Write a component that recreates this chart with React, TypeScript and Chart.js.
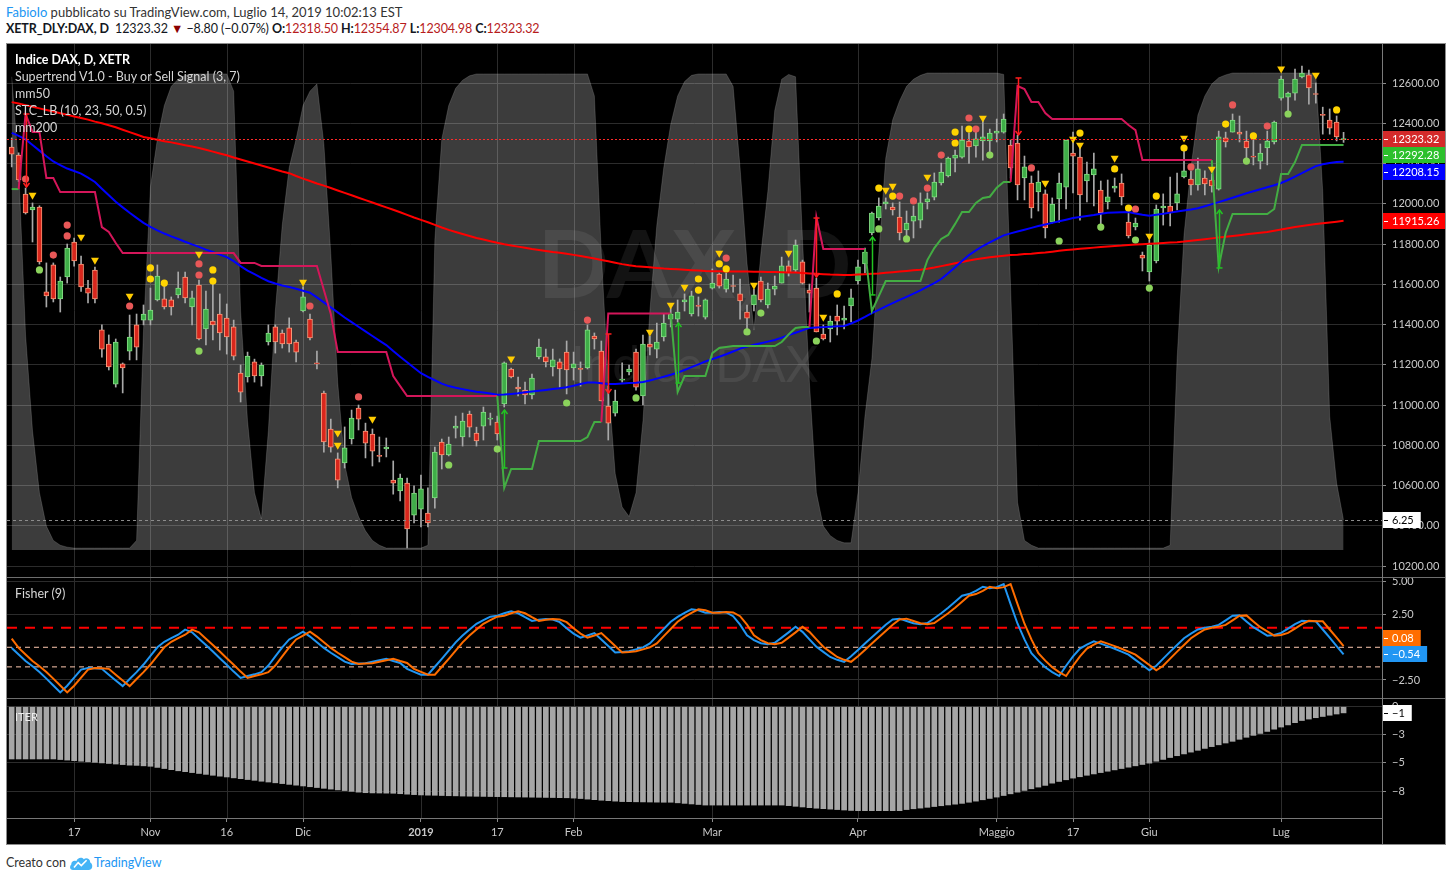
import React, { useEffect, useRef } from "react";
import { Chart, registerables } from "chart.js";
Chart.register(...registerables);

const FONT = "Lato, 'Open Sans', sans-serif";
Chart.defaults.font.family = FONT;

// ---------------- DATA ----------------
const opens = [
12281,12242,12048,11969,11984,11562,11696,11527,11636,11810,
11700,11581,11670,11373,11303,11104,11204,11268,11398,11422,
11422,11522,11527,11522,11547,11636,11487,11596,11378,11417,
11452,11432,11388,11159,11139,11214,11144,11313,11388,11358,
11383,11313,11467,11427,11209,11059,10881,10732,10712,10831,
10985,10871,10856,10749,10782,10627,10573,10612,10453,10483,
10463,10538,10816,10752,10885,10841,10955,10861,10895,10930,
10915,11005,11179,11089,11074,11050,11239,11239,11189,11214,
11263,11184,11181,11184,11343,11268,10995,10960,11124,11164,
11263,11045,11303,11278,11338,11427,11427,11512,11452,11494,
11437,11581,11651,11576,11593,11552,11462,11497,11616,11497,
11576,11606,11691,11671,11711,11571,11581,11353,11378,11442,
11422,11492,11616,11701,11855,11929,11999,11984,11934,11870,
11914,11919,12009,12033,12103,12138,12227,12232,12312,12287,
12312,12312,12351,12356,12292,12302,12128,12103,12059,12049,
11909,12024,12083,12252,12232,12113,12143,12068,12009,12078,
12103,11909,11885,11745,11661,11716,11979,11989,12004,12133,
12123,12093,12128,12118,12073,12327,12356,12356,12312,12237,
12212,12277,12307,12525,12530,12550,12630,12640,12547,12443,
12416,12406,12318.5];
const highs = [
12327,12253,12078,12004,11990,11706,11706,11636,11800,11830,
11740,11620,11685,11398,11348,11328,11209,11447,11452,11497,
11581,11696,11596,11537,11661,11661,11566,11621,11566,11621,
11552,11502,11422,11199,11263,11228,11209,11398,11398,11373,
11433,11323,11587,11452,11268,11069,10930,10762,10891,10975,
11000,10910,10881,10841,10836,10722,10657,10637,10598,10652,
10588,10791,10831,10841,10945,10960,10970,10890,10990,10960,
10945,11214,11184,11139,11114,11154,11328,11278,11278,11229,
11318,11263,11214,11398,11358,11318,11094,11074,11209,11199,
11278,11348,11343,11407,11452,11482,11522,11552,11566,11537,
11527,11676,11656,11656,11646,11626,11497,11576,11636,11606,
11641,11735,11716,11820,11720,11601,11631,11398,11442,11497,
11492,11576,11720,11780,11959,12029,12029,12004,12009,11964,
11989,12054,12054,12153,12202,12232,12267,12386,12351,12361,
12427,12371,12421,12446,12317,12341,12237,12138,12163,12069,
12029,12153,12317,12356,12287,12207,12252,12113,12118,12128,
12148,11964,11929,11760,11820,11994,12049,12133,12153,12267,
12163,12227,12163,12148,12361,12356,12446,12436,12361,12317,
12297,12361,12411,12634,12555,12669,12684,12664,12600,12480,
12471,12436,12354.87];
const lows = [
12183,12110,11949,11810,11700,11487,11512,11462,11606,11690,
11565,11507,11507,11238,11174,11089,11060,11224,11224,11398,
11398,11517,11477,11447,11532,11507,11398,11323,11298,11323,
11273,11253,11224,11015,11114,11114,11094,11298,11258,11283,
11263,11214,11462,11323,11179,10766,10766,10588,10687,10806,
10876,10737,10697,10717,10742,10557,10523,10290,10414,10394,
10394,10488,10682,10747,10836,10796,10841,10796,10826,10900,
10826,10990,11134,11045,11005,11030,11229,11189,11144,11089,
11055,11124,11094,11179,11278,11020,10826,10945,11114,11149,
11074,11000,11249,11234,11318,11388,11412,11467,11442,11442,
11427,11576,11581,11561,11561,11427,11373,11467,11512,11482,
11547,11606,11641,11661,11601,11462,11363,11323,11313,11348,
11378,11413,11601,11656,11845,11919,11974,11944,11820,11830,
11830,11880,11974,12019,12093,12133,12158,12227,12200,12232,
12217,12247,12307,12351,12128,12019,12019,11929,11964,11830,
11904,11909,11974,12054,11919,12009,11989,11900,11974,12058,
11994,11830,11870,11666,11616,11706,11894,11890,11969,12128,
12044,12068,12044,12058,12068,12282,12356,12307,12218,12193,
12173,12193,12297,12515,12441,12515,12625,12495,12500,12346,
12346,12312,12304.98];
const closes = [
12246,12118,11954,11984,11711,11542,11527,11616,11780,11716,
11587,11556,11527,11278,11189,11313,11184,11338,11288,11452,
11472,11641,11487,11487,11581,11532,11532,11328,11477,11398,
11358,11338,11243,11064,11243,11144,11199,11358,11313,11303,
11303,11263,11537,11333,11204,10816,10791,10627,10787,10935,
10930,10811,10771,10745,10791,10612,10637,10384,10563,10583,
10414,10766,10752,10806,10895,10920,10890,10821,10965,10935,
10856,11209,11139,11080,11050,11134,11288,11214,11224,11179,
11174,11204,11177,11373,11328,11020,10910,11020,11129,11179,
11089,11303,11288,11313,11407,11452,11462,11522,11542,11490,
11522,11606,11591,11626,11589,11517,11432,11547,11522,11576,
11591,11691,11656,11795,11606,11556,11363,11328,11417,11417,
11432,11532,11686,11760,11954,11989,12009,11969,11855,11904,
11939,12004,12024,12108,12158,12227,12242,12317,12282,12322,
12332,12351,12361,12421,12178,12093,12183,11979,12108,11880,
11999,12103,12317,12237,12044,12148,12173,11954,12034,12088,
12034,11840,11904,11730,11795,11974,11989,11954,12049,12163,
12093,12173,12098,12088,12332,12307,12416,12346,12277,12232,
12252,12312,12406,12620,12550,12620,12649,12575,12543,12439,
12376,12332.12,12323.32];

const mm50 = [
12352,12337,12320,12292,12264,12236,12210,12192,12175,12163,
12150,12130,12108,12075,12042,12010,11982,11955,11930,11905,
11885,11868,11852,11838,11825,11811,11798,11786,11772,11760,
11747,11735,11715,11690,11668,11650,11632,11615,11604,11594,
11586,11578,11568,11558,11535,11510,11485,11460,11435,11412,
11389,11366,11343,11320,11298,11268,11240,11212,11185,11158,
11140,11123,11106,11094,11086,11079,11072,11066,11062,11057,
11051,11052,11055,11058,11063,11067,11071,11075,11079,11083,
11088,11096,11104,11112,11112,11108,11104,11105,11107,11109,
11111,11114,11122,11131,11140,11150,11161,11174,11188,11202,
11216,11228,11240,11252,11266,11280,11290,11299,11307,11315,
11323,11335,11347,11359,11371,11383,11385,11387,11389,11391,
11393,11405,11420,11438,11457,11473,11490,11506,11522,11537,
11553,11570,11588,11606,11626,11655,11685,11715,11745,11768,
11790,11808,11826,11843,11853,11862,11871,11880,11889,11897,
11905,11913,11921,11929,11934,11939,11944,11950,11955,11957,
11958,11959,11952,11945,11940,11945,11950,11956,11962,11967,
11972,11978,11988,11998,12008,12019,12030,12041,12052,12062,
12072,12082,12092,12103,12118,12135,12152,12170,12187,12196,
12203,12207,12208.15];
const mm200 = [
12505,12498,12490,12482,12474,12466,12458,12450,12442,12434,
12426,12418,12408,12400,12390,12380,12368,12356,12344,12332,
12325,12318,12311,12305,12298,12291,12284,12277,12268,12259,
12250,12241,12230,12220,12210,12200,12190,12180,12170,12160,
12152,12138,12125,12113,12101,12090,12078,12066,12054,12042,
12030,12018,12006,11994,11982,11970,11958,11945,11932,11920,
11908,11895,11882,11870,11860,11850,11840,11830,11822,11814,
11806,11799,11793,11787,11781,11775,11770,11765,11760,11756,
11752,11746,11740,11734,11728,11721,11714,11707,11700,11694,
11690,11687,11684,11681,11678,11676,11674,11672,11670,11668,
11666,11665,11665,11664,11664,11663,11663,11662,11662,11661,
11661,11660,11659,11658,11656,11654,11652,11650,11648,11647,
11646,11646,11648,11650,11652,11654,11657,11660,11663,11666,
11669,11672,11677,11683,11690,11697,11704,11711,11718,11724,
11729,11734,11738,11742,11745,11747,11750,11752,11755,11758,
11762,11766,11770,11773,11776,11779,11782,11785,11788,11790,
11792,11795,11797,11799,11801,11803,11805,11807,11809,11812,
11816,11820,11824,11828,11832,11836,11840,11844,11848,11852,
11856,11860,11866,11872,11878,11884,11890,11895,11899,11903,
11907,11911,11915.26];
const supertrend = [
12073,12073,12446,12357,12357,12128,12128,12058,12058,12058,
12058,12058,12058,11884,11860,11805,11755,11755,11755,11755,
11755,11755,11755,11755,11755,11755,11755,11755,11755,11755,
11755,11755,11755,11706,11706,11706,11691,11691,11691,11691,
11691,11691,11691,11691,11691,11571,11452,11263,11263,11263,
11263,11263,11263,11263,11263,11144,11094,11045,11045,11045,
11045,11045,11045,11045,11045,11045,11045,11045,11045,11045,
11045,10588,10682,10682,10682,10682,10821,10821,10821,10821,
10821,10821,10821,10841,10915,10915,11455,11455,11455,11455,
11455,11455,11455,11455,11455,11455,11065,11144,11144,11144,
11144,11258,11283,11288,11293,11293,11293,11293,11293,11293,
11293,11313,11350,11383,11388,11388,11934,11775,11775,11775,
11775,11775,11775,11775,11467,11541,11616,11616,11616,11616,
11616,11616,11720,11780,11825,11845,11900,11959,11959,12004,
12029,12035,12080,12108,12108,12585,12570,12506,12506,12451,
12421,12421,12421,12421,12421,12421,12421,12421,12421,12421,
12421,12391,12366,12217,12217,12217,12217,12217,12217,12217,
12217,12217,12217,12217,11686,11855,11949,11949,11949,11949,
11949,11949,11974,12148,12148,12207,12292.28,12292.28,12292.28,12292.28,
12292.28,12292.28,12292.28];
const stc = [
99,80,45,25,12,5,2,1,0.6,0.4,
0.4,0.4,0.4,0.4,0.4,0.4,0.4,0.4,2,46,
76,86,93,97,98.5,99.3,99.6,99.6,99.6,99.6,
99.6,99.6,96,50,27,12,6.5,25,50,68,
80,86,93,96,97.5,85,62,35,18,11,
7,4,2,1,0.4,0.4,0.4,0.4,0.4,0.4,
1,65,86,93,96.6,98.3,99.2,99.6,99.6,99.6,
99.6,99.6,99.6,99.6,99.6,99.6,99.6,99.6,99.6,99.6,
99.6,99.6,99.6,99.6,95,62,35,16,9,7,
12,27,50,68,80,89,95,98,99.3,99.6,
99.6,99.6,99.6,99.6,97,80,60,46,62,75,
92,98.5,99.5,99,65,35,12,5,3,2,
1.5,1.5,12,28,40,62,82,90,94,97,
98.5,99.3,99.8,99.8,99.8,99.8,99.8,99.8,99.8,99.8,
99.8,99.8,99.8,99.5,55,10,2,1,0.4,0.4,
0.4,0.4,0.4,0.4,0.4,0.4,0.4,0.4,0.4,0.4,
0.4,0.4,0.4,0.4,0.4,0.4,0.4,1,40,66,
80,91,95,97.5,98.8,99.4,99.8,99.8,99.8,99.8,
99.8,99.8,99.8,99.8,99.8,99.8,99.8,99.8,99.5,75,
28,14,6.25];
const fisher = [
-0.05,-0.55,-1.05,-1.45,-1.89,-2.4,-2.93,-3.45,-2.94,-2.32,
-1.71,-1.58,-1.6,-1.65,-2.1,-2.54,-2.97,-2.43,-1.9,-1.32,
-0.66,0.0,0.42,0.7,0.96,1.35,1.14,0.66,0.18,-0.33,
-0.84,-1.34,-1.86,-2.35,-2.2,-2.07,-1.9,-1.4,-0.69,0.0,
0.6,0.9,1.2,0.82,0.39,-0.05,-0.42,-0.76,-1.1,-1.27,
-1.25,-1.22,-1.1,-0.99,-0.88,-1.05,-1.2,-1.65,-1.88,-2.1,
-2.1,-1.49,-0.88,-0.25,0.38,0.9,1.36,1.8,2.07,2.34,
2.41,2.6,2.75,2.6,2.3,2.02,2.1,2.17,2.12,1.92,
1.45,1.05,0.74,0.9,1.09,0.6,0.1,-0.39,-0.37,-0.31,
-0.16,-0.01,0.3,0.85,1.4,1.95,2.33,2.64,2.9,2.83,
2.65,2.64,2.7,2.67,2.38,1.73,0.92,0.55,0.31,0.24,
0.35,0.74,1.14,1.57,1.18,0.6,0.04,-0.35,-0.74,-0.96,
-1.11,-0.68,-0.2,0.29,0.77,1.25,1.73,2.12,2.19,2.01,
1.84,1.77,1.85,2.22,2.6,3.03,3.49,3.94,4.07,4.31,
4.63,4.52,4.6,4.84,3.3,1.8,0.6,-0.45,-1.02,-1.53,
-1.9,-2.2,-1.41,-0.7,-0.1,0.2,0.46,0.28,0.09,-0.11,
-0.33,-0.56,-0.96,-1.36,-1.76,-1.41,-0.87,-0.33,0.17,0.69,
1.05,1.36,1.5,1.58,1.71,2.06,2.41,2.44,1.98,1.54,
1.22,0.89,0.94,1.1,1.43,1.77,2.03,2.0,1.99,1.36,
0.74,0.08,-0.54];
const fisherFirstTrigger = 0.66;
const fisherLevels = [1.5, 0, -1.5];
const iter = [
-4.65,-4.65,-4.65,-4.65,-4.65,-4.65,-4.65,-4.7,-4.75,-4.8,
-4.85,-4.9,-4.95,-5.0,-5.05,-5.1,-5.15,-5.2,-5.22,-5.26,
-5.3,-5.4,-5.5,-5.6,-5.7,-5.78,-5.86,-5.94,-6.02,-6.1,
-6.18,-6.25,-6.33,-6.4,-6.48,-6.55,-6.63,-6.7,-6.77,-6.84,
-6.91,-6.98,-7.05,-7.12,-7.19,-7.26,-7.33,-7.4,-7.46,-7.53,
-7.6,-7.65,-7.67,-7.68,-7.69,-7.7,-7.74,-7.78,-7.82,-7.85,
-7.87,-7.88,-7.9,-7.92,-7.93,-7.95,-7.96,-7.97,-7.98,-7.99,
-8.0,-8.01,-8.02,-8.03,-8.04,-8.05,-8.06,-8.07,-8.08,-8.09,
-8.1,-8.13,-8.17,-8.22,-8.27,-8.32,-8.36,-8.4,-8.44,-8.45,
-8.46,-8.47,-8.48,-8.49,-8.5,-8.5,-8.55,-8.6,-8.65,-8.7,
-8.75,-8.75,-8.75,-8.75,-8.75,-8.75,-8.75,-8.75,-8.75,-8.75,
-8.75,-8.75,-8.8,-8.86,-8.92,-8.98,-9.03,-9.07,-9.11,-9.15,
-9.19,-9.23,-9.25,-9.25,-9.25,-9.25,-9.25,-9.25,-9.25,-9.15,
-9.08,-9.02,-8.95,-8.88,-8.81,-8.74,-8.67,-8.6,-8.5,-8.4,
-8.28,-8.16,-8.04,-7.9,-7.75,-7.6,-7.45,-7.3,-7.15,-7.0,
-6.8,-6.65,-6.5,-6.35,-6.23,-6.1,-5.98,-5.86,-5.74,-5.62,
-5.5,-5.38,-5.26,-5.14,-5.02,-4.85,-4.69,-4.52,-4.36,-4.2,
-4.04,-3.88,-3.71,-3.55,-3.39,-3.23,-3.08,-2.9,-2.72,-2.55,
-2.38,-2.2,-2.0,-1.81,-1.62,-1.42,-1.23,-1.1,-0.98,-0.87,
-0.76,-0.65,-0.55];

// signal markers: [bar index, price]
const yellowTriangles = [[3,12043],[10,11835],[12,11720],[17,11542],[27,11750],[42,11611],[47,10861],[47,10801],[52,10930],[72,11229],[92,11363],[95,11497],[97,11586],[102,11755],[107,11596],[112,11755],[117,11437],[126,12068],[127,12088],[132,12133],[140,12426],[149,12103],[153,12322],[154,12292],[159,12227],[164,11840],[169,12327],[173,12173],[183,12670],[188,12640]];
const redDots = [[2,12123],[6,11745],[8,11894],[8,11840],[17,11492],[27,11701],[27,11646],[43,11492],[50,11040],[83,11422],[103,11730],[128,12038],[130,12014],[132,12078],[134,12242],[138,12426],[139,12371],[147,12178],[162,11974],[170,12183],[176,12491],[181,12386]];
const yellowDots = [[20,11681],[20,11626],[22,11606],[29,11671],[29,11616],[99,11626],[99,11571],[102,11701],[103,11676],[119,11552],[125,12078],[127,12038],[136,12356],[136,12302],[138,12371],[154,12351],[159,12173],[161,11979],[165,12038],[169,12277],[175,12396],[179,12337],[191,12466]];
const greenDots = [[4,11671],[27,11268],[63,10702],[70,10781],[80,11010],[90,11035],[106,11363],[108,11457],[116,11318],[125,11875],[129,11825],[141,12242],[151,11815],[157,11884],[162,11820],[164,11581],[178,12212],[184,12446]];

// trend-change arrows
const arrowBars = [2, 71, 86, 96, 116, 124, 145, 174];
const arrowTop = [12446, 10975, 11353, 11407, 11929, 11835, 12625, 11969];
const arrowBottom = [12083, 10687, 11060, 11109, 11636, 11547, 12342, 11681];
const arrowUp = [false, true, false, true, false, true, false, true];

// axes
const xTickIdx = [9, 20, 31, 42, 59, 70, 81, 101, 122, 142, 153, 164, 183];
const xTickLabels = ["17", "Nov", "16", "Dic", "2019", "17", "Feb", "Mar", "Apr", "Maggio", "17", "Giu", "Lug"];
const priceTicks = [10200, 10400, 10600, 10800, 11000, 11200, 11400, 11600, 11800, 12000, 12200, 12400, 12600];
const fisherTicks = [5, 2.5, -2.5];
const fisherTickLabels = ["5.00", "2.50", "\u22122.50"];
const iterTicks = [0, -2.5, -5, -7.5];
const iterTickLabels = ["0", "\u22123", "\u22125", "\u22128"];

// ---------------- LAYOUT CONSTANTS ----------------
const X_MIN = -0.678, X_MAX = 197.54;
const AXIS_W = 63;
const GRID = "#2c2c2c";
const TICK_TXT = "#c9c9c9";
const N = closes.length;

const fmt = (v: number, d: number) => v.toFixed(d).replace("-", "\u2212");
const pts = (arr: number[]) => arr.map((v, i) => ({ x: i, y: v }));
const mk = (arr: number[][]) => arr.map((p) => ({ x: p[0], y: p[1] }));

const zeroPad = (s: any) => { s.paddingTop = 0; s.paddingBottom = 0; s.paddingLeft = 0; s.paddingRight = 0; };
const rightAxisFit = (s: any) => { s.width = AXIS_W; zeroPad(s); };

const hiddenX = () => ({
  type: "linear", min: X_MIN, max: X_MAX, display: false, offset: false,
  grid: { offset: false }, ticks: { display: false }, afterFit: zeroPad,
});

function rightAxis(min: number, max: number, ticks: number[], labels: (v: number, i: number) => string, extra: any = {}) {
  return {
    type: "linear", position: "right", min, max, offset: false, beginAtZero: false,
    afterBuildTicks: (s: any) => { s.ticks = ticks.map((v) => ({ value: v })); },
    afterFit: rightAxisFit,
    grid: { color: GRID, tickColor: "#8a8a8a", tickLength: 4, drawTicks: true },
    border: { display: false },
    ticks: { color: TICK_TXT, font: { size: 11, family: FONT }, padding: 6, autoSkip: false, callback: (v: any, i: number) => labels(Number(v), i) },
    ...extra,
  };
}

const baseOptions = () => ({
  responsive: false, animation: false, devicePixelRatio: 1, events: [],
  layout: { padding: 0, autoPadding: false },
  plugins: { legend: { display: false }, tooltip: { enabled: false } },
});

const vGridPlugin = {
  id: "vgrid",
  beforeDatasetsDraw(chart: any) {
    const { ctx, chartArea: a, scales } = chart;
    ctx.save();
    ctx.strokeStyle = GRID;
    ctx.lineWidth = 1;
    for (const t of xTickIdx) {
      const x = Math.round(scales.x.getPixelForValue(t)) + 0.5;
      ctx.beginPath(); ctx.moveTo(x, a.top); ctx.lineTo(x, a.bottom); ctx.stroke();
    }
    ctx.restore();
  },
};

type Lbl = { axis: string; value: number; bg: string; fg: string; text: string };
function labelPlugin(items: Lbl[], mode: "down" | "up") {
  return {
    id: "valueLabels",
    afterDraw(chart: any) {
      const { ctx, chartArea: a } = chart;
      const H = 16;
      const pos = items.map((it) => ({ ...it, y: chart.scales[it.axis].getPixelForValue(it.value) }));
      if (mode === "down") {
        pos.sort((p, q) => p.y - q.y);
        for (let i = 1; i < pos.length; i++) if (pos[i].y < pos[i - 1].y + H + 0.5) pos[i].y = pos[i - 1].y + H + 0.5;
      } else {
        pos.sort((p, q) => q.y - p.y);
        for (let i = 1; i < pos.length; i++) if (pos[i].y > pos[i - 1].y - H - 0.5) pos[i].y = pos[i - 1].y - H - 0.5;
      }
      ctx.save();
      ctx.font = `11px ${FONT}`;
      ctx.textBaseline = "middle";
      for (const p of pos) {
        const w = Math.min(ctx.measureText(p.text).width + 16, chart.width - a.right - 1);
        const y0 = Math.round(p.y - H / 2);
        ctx.fillStyle = p.bg;
        ctx.fillRect(a.right + 1, y0, w, H);
        ctx.fillStyle = p.fg;
        ctx.fillRect(a.right + 2, Math.round(p.y), 4, 1);
        ctx.fillText(p.text, a.right + 10, y0 + H / 2 + 0.5);
      }
      ctx.restore();
    },
  };
}

// ---------------- MAIN PANE ----------------
function mainConfig(): any {
  const up = closes.map((c, i) => c >= opens[i]);
  const trendUp = supertrend.map((s, i) => s < closes[i]);
  const G_FILL = "#3fae48", G_EDGE = "#83dc83", R_FILL = "#d9261c", R_EDGE = "#f79778";

  const overlay = {
    id: "mainOverlay",
    beforeDatasetsDraw(chart: any) {
      const { ctx, chartArea: a } = chart;
      ctx.save();
      ctx.fillStyle = "rgba(255,255,255,0.075)";
      ctx.textAlign = "center";
      ctx.textBaseline = "middle";
      const cx = (a.left + a.right) / 2;
      ctx.font = `bold 94px ${FONT}`;
      ctx.fillText("DAX, D", cx, 224);
      ctx.font = `50px ${FONT}`;
      ctx.fillText("Indice DAX", cx, 322);
      ctx.restore();
    },
    afterDatasetsDraw(chart: any) {
      const { ctx, chartArea: a, scales } = chart;
      ctx.save();
      let y = Math.round(scales.y.getPixelForValue(closes[N - 1])) + 0.5;
      ctx.setLineDash([2, 2]);
      ctx.strokeStyle = "#ff2a2a";
      ctx.lineWidth = 1;
      ctx.beginPath(); ctx.moveTo(a.left, y); ctx.lineTo(a.right, y); ctx.stroke();
      y = Math.round(scales.stc.getPixelForValue(stc[N - 1])) + 0.5;
      ctx.strokeStyle = "#8c8c8c";
      ctx.setLineDash([3, 3]);
      ctx.beginPath(); ctx.moveTo(a.left, y); ctx.lineTo(a.right, y); ctx.stroke();
      ctx.setLineDash([]);
      for (let i = 0; i < arrowBars.length; i++) {
        const x = Math.round(scales.x.getPixelForValue(arrowBars[i])) + 0.5;
        const yt = scales.y.getPixelForValue(arrowTop[i]);
        const yb = scales.y.getPixelForValue(arrowBottom[i]);
        const col = arrowUp[i] ? "#22c422" : "#ff1e1e";
        ctx.strokeStyle = col;
        ctx.lineWidth = 1.5;
        ctx.beginPath(); ctx.moveTo(x, yt); ctx.lineTo(x, yb); ctx.stroke();
        const head = arrowUp[i] ? yt : yb;
        const tail = arrowUp[i] ? yb : yt;
        const d = arrowUp[i] ? 1 : -1;
        ctx.beginPath(); ctx.moveTo(x - 3, head + 4 * d); ctx.lineTo(x, head); ctx.lineTo(x + 3, head + 4 * d); ctx.stroke();
        ctx.beginPath(); ctx.moveTo(x - 3, tail); ctx.lineTo(x + 3, tail); ctx.stroke();
      }
      ctx.restore();
    },
  };

  const markerDs = (data: number[][], color: string, style: string, r: number, rot: number) => ({
    type: "line", yAxisID: "y", data: mk(data), showLine: false, pointStyle: style, pointRadius: r,
    pointRotation: rot, pointBackgroundColor: color, pointBorderWidth: 0, order: 1,
  });

  return {
    type: "bar",
    data: {
      datasets: [
        { type: "line", yAxisID: "stc", data: pts(stc), fill: { value: 0 }, backgroundColor: "rgba(255,255,255,0.235)", borderColor: "rgba(255,255,255,0.15)", borderWidth: 1, pointRadius: 0, order: 30 },
        { type: "bar", yAxisID: "y", data: lows.map((l, i) => ({ x: i, y: [l, highs[i]] })), backgroundColor: "#a9a9a9", barThickness: 1, grouped: false, order: 20 },
        { type: "bar", yAxisID: "y", data: opens.map((o, i) => ({ x: i, y: [o, closes[i]] })), backgroundColor: up.map((u) => (u ? G_FILL : R_FILL)), borderColor: up.map((u) => (u ? G_EDGE : R_EDGE)), borderWidth: 1, borderSkipped: false, minBarLength: 1, barThickness: 5, grouped: false, order: 19 },
        { type: "line", yAxisID: "y", data: pts(mm200), borderColor: "#ff0000", borderWidth: 2, pointRadius: 0, order: 9 },
        { type: "line", yAxisID: "y", data: pts(mm50), borderColor: "#0000ff", borderWidth: 2, pointRadius: 0, order: 8 },
        { type: "line", yAxisID: "y", data: pts(supertrend), borderColor: "#d81b60", borderWidth: 2, pointRadius: 0, order: 7,
          segment: { borderColor: (c: any) => (trendUp[c.p1DataIndex] ? "#43ad43" : "#d4165a") } },
        markerDs(greenDots, "#8bd35c", "circle", 3.6, 0),
        markerDs(redDots, "#e85858", "circle", 3.6, 0),
        markerDs(yellowDots, "#ffd400", "circle", 3.6, 0),
        markerDs(yellowTriangles, "#ffcc00", "triangle", 4.6, 180),
      ],
    },
    options: {
      ...baseOptions(),
      scales: {
        x: hiddenX(),
        y: rightAxis(10145.4, 12793.8, priceTicks, (v) => v.toFixed(2)),
        stc: { type: "linear", min: -5.65, max: 105.86, display: false, ticks: { display: false }, afterFit: zeroPad },
      },
    },
    plugins: [vGridPlugin, overlay, labelPlugin([
      { axis: "y", value: closes[N - 1], bg: "#d42a2a", fg: "#fff", text: fmt(closes[N - 1], 2) },
      { axis: "y", value: supertrend[N - 1], bg: "#2cc02c", fg: "#fff", text: fmt(supertrend[N - 1], 2) },
      { axis: "y", value: mm50[N - 1], bg: "#0000ff", fg: "#fff", text: fmt(mm50[N - 1], 2) },
      { axis: "y", value: mm200[N - 1], bg: "#ff0000", fg: "#fff", text: fmt(mm200[N - 1], 2) },
      { axis: "stc", value: stc[N - 1], bg: "#ffffff", fg: "#000", text: fmt(stc[N - 1], 2) },
    ], "down")],
  };
}

// ---------------- FISHER PANE ----------------
function fisherConfig(): any {
  const trigger = [fisherFirstTrigger, ...fisher.slice(0, N - 1)];
  const lvlStyle = [
    { color: "#ff0000", dash: [10, 8], w: 2 },
    { color: "#ffc9b0", dash: [5, 4], w: 1 },
    { color: "#ffc9b0", dash: [5, 4], w: 1 },
  ];
  return {
    type: "line",
    data: {
      datasets: [
        ...fisherLevels.map((lv, k) => ({
          data: [{ x: X_MIN, y: lv }, { x: X_MAX, y: lv }], borderColor: lvlStyle[k].color, borderDash: lvlStyle[k].dash,
          borderWidth: lvlStyle[k].w, pointRadius: 0, order: 10,
        })),
        { data: pts(fisher), borderColor: "#2196f3", borderWidth: 2, pointRadius: 0, order: 2 },
        { data: pts(trigger), borderColor: "#ff6d00", borderWidth: 2, pointRadius: 0, order: 1 },
      ],
    },
    options: {
      ...baseOptions(),
      scales: {
        x: hiddenX(),
        y: rightAxis(-3.88, 5.3, fisherTicks, (_v, i) => fisherTickLabels[i]),
      },
    },
    plugins: [vGridPlugin, labelPlugin([
      { axis: "y", value: fisher[N - 1], bg: "#2196f3", fg: "#fff", text: fmt(fisher[N - 1], 2) },
      { axis: "y", value: trigger[N - 1], bg: "#ff6d00", fg: "#fff", text: fmt(trigger[N - 1], 2) },
    ], "up")],
  };
}

// ---------------- ITER PANE + X AXIS ----------------
function iterConfig(): any {
  return {
    type: "bar",
    data: {
      datasets: [
        { data: pts(iter), backgroundColor: "#a6a6a6", barThickness: 5, grouped: false },
      ],
    },
    options: {
      ...baseOptions(),
      scales: {
        x: {
          type: "linear", min: X_MIN, max: X_MAX, offset: false, position: "bottom",
          afterBuildTicks: (s: any) => { s.ticks = xTickIdx.map((v) => ({ value: v })); },
          afterFit: (s: any) => { s.height = 26; zeroPad(s); },
          grid: { offset: false, drawOnChartArea: false, drawTicks: true, tickLength: 4, tickColor: "#8a8a8a" },
          border: { display: true, color: "#777777" },
          ticks: {
            autoSkip: false, maxRotation: 0, padding: 4, color: TICK_TXT,
            font: (c: any) => ({ family: FONT, size: 11, weight: xTickLabels[c.index] === "2019" ? "bold" : "normal" }),
            callback: (_v: any, i: number) => xTickLabels[i],
          },
        },
        y: rightAxis(-9.9, 0.685, iterTicks, (_v, i) => iterTickLabels[i]),
      },
    },
    plugins: [vGridPlugin, labelPlugin([
      { axis: "y", value: iter[N - 1], bg: "#ffffff", fg: "#000", text: fmt(Math.round(iter[N - 1]), 0) },
    ], "down")],
  };
}

// ---------------- COMPONENT ----------------
export default function App() {
  const mainRef = useRef<HTMLCanvasElement>(null);
  const fisherRef = useRef<HTMLCanvasElement>(null);
  const iterRef = useRef<HTMLCanvasElement>(null);

  useEffect(() => {
    const charts: Chart[] = [];
    if (mainRef.current) charts.push(new Chart(mainRef.current, mainConfig()));
    if (fisherRef.current) charts.push(new Chart(fisherRef.current, fisherConfig()));
    if (iterRef.current) charts.push(new Chart(iterRef.current, iterConfig()));
    return () => charts.forEach((c) => c.destroy());
  }, []);

  const abs = (left: number, top: number, extra: any = {}): any => ({ position: "absolute", left, top, whiteSpace: "nowrap", ...extra });
  const legend = { font: `12.5px ${FONT}`, color: "#d6d6d6", lineHeight: "16px" };
  const red = { color: "#b71c1c" };

  return (
    <div style={{ position: "absolute", left: 0, top: 0, width: 1452, height: 881, background: "#ffffff", fontFamily: FONT, overflow: "hidden" }}>
      <div style={abs(6, 4, { font: `13px ${FONT}`, color: "#333", lineHeight: "16px" })}>
        <span style={{ color: "#2196f3" }}>FabioIo</span> pubblicato su TradingView.com, Luglio 14, 2019 10:02:13 EST
      </div>
      <div style={abs(6, 21, { font: `12.5px ${FONT}`, color: "#131722", lineHeight: "16px", letterSpacing: "-0.1px" })}>
        <b>XETR_DLY:DAX, D</b>&nbsp; 12323.32 <span style={{ color: "#8b0000" }}>▼</span> {"\u2212"}8.80 ({"\u2212"}0.07%) <b>O:</b><span style={red}>12318.50</span> <b>H:</b><span style={red}>12354.87</span> <b>L:</b><span style={red}>12304.98</span> <b>C:</b><span style={red}>12323.32</span>
      </div>

      <div style={{ position: "absolute", left: 6, top: 43, width: 1440, height: 802, boxSizing: "border-box", border: "1px solid #8c8c8c", background: "#000" }}>
        <canvas ref={mainRef} width={1438} height={533} style={{ position: "absolute", left: 0, top: 0, display: "block" }} />
        <div style={{ position: "absolute", left: 0, top: 533, width: 1438, height: 1, background: "#6e6e6e" }} />
        <canvas ref={fisherRef} width={1438} height={120} style={{ position: "absolute", left: 0, top: 534, display: "block" }} />
        <div style={{ position: "absolute", left: 0, top: 654, width: 1438, height: 1, background: "#6e6e6e" }} />
        <canvas ref={iterRef} width={1438} height={145} style={{ position: "absolute", left: 0, top: 655, display: "block" }} />
        <div style={{ position: "absolute", left: 1375, top: 0, width: 1, height: 800, background: "#7a7a7a" }} />
      </div>

      <div style={abs(15, 52, { ...legend, color: "#ffffff", fontWeight: "bold" })}>Indice DAX, D, XETR</div>
      <div style={abs(15, 69, legend)}>Supertrend V1.0 - Buy or Sell Signal (3, 7)</div>
      <div style={abs(15, 86, legend)}>mm50</div>
      <div style={abs(15, 103, legend)}>STC_LB (10, 23, 50, 0.5)</div>
      <div style={abs(15, 120, legend)}>mm200</div>
      <div style={abs(15, 586, legend)}>Fisher (9)</div>
      <div style={abs(15, 709, { ...legend, font: `11px ${FONT}`, color: "#eeeeee" })}>ITER</div>

      <div style={abs(6, 855, { font: `12.5px ${FONT}`, color: "#333", lineHeight: "16px", display: "flex", alignItems: "center" })}>
        <span>Creato con</span>
        <svg width="24" height="16" viewBox="0 0 24 16" style={{ margin: "0 1px 0 3px" }}>
          <path d="M4 15 C1 15 0 11.5 2.3 9.6 C2 6.4 5 5 7.3 6.2 C8.4 2.8 12.6 1.6 14.8 4.2 C17 2.3 21.4 3.6 21.2 7.4 C24.2 8.4 24 15 20 15 Z" fill="#45b4f6" />
          <path d="M5 12.5 L9.2 7.6 L12.3 10.6 L17.6 5.2" stroke="#ffffff" strokeWidth="1.6" fill="none" />
        </svg>
        <span style={{ color: "#2196f3" }}>TradingView</span>
      </div>
    </div>
  );
}
